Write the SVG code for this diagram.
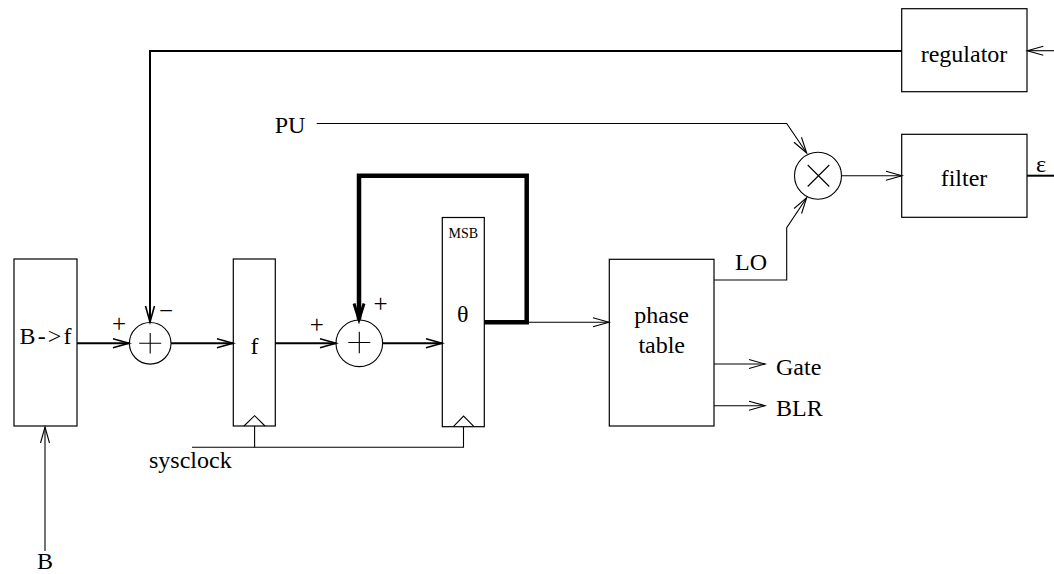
<svg xmlns="http://www.w3.org/2000/svg" width="1054" height="574" viewBox="0 0 1054 574">
<style>
text{font-family:"Liberation Serif","Times New Roman",serif;fill:#000}
.t{font-size:24px}
.s{font-size:14px}
.pm{font-size:25px}
.box{fill:none;stroke:#000;stroke-width:1.2}
.thin{fill:none;stroke:#000;stroke-width:1.1}
.med{fill:none;stroke:#000;stroke-width:2}
.thick{fill:none;stroke:#000;stroke-width:4.5}
.sym{fill:none;stroke:#000;stroke-width:1.1}
</style>
<defs>
<marker id="a1" markerUnits="userSpaceOnUse" markerWidth="20" markerHeight="12" refX="16" refY="5" orient="auto" overflow="visible">
<path d="M0,0.5 L16,5 L0,9.5" fill="none" stroke="#000" stroke-width="1.1"/>
</marker>
<marker id="a2" markerUnits="userSpaceOnUse" markerWidth="20" markerHeight="12" refX="16" refY="5" orient="auto" overflow="visible">
<path d="M0,0.5 L16,5 L0,9.5" fill="none" stroke="#000" stroke-width="1.6"/>
</marker>
<marker id="a3" markerUnits="userSpaceOnUse" markerWidth="20" markerHeight="14" refX="16" refY="5" orient="auto" overflow="visible">
<path d="M0,0 L16,5 L0,10" fill="none" stroke="#000" stroke-width="3"/>
</marker>
</defs>

<g id="connectors">
<path class="thin" d="M45,551 V427" marker-end="url(#a1)"/>
<path class="med" d="M77,343.3 H129" marker-end="url(#a2)"/>
<path class="med" d="M171,343.3 H233" marker-end="url(#a2)"/>
<path class="med" d="M902,51 H150 V322" marker-end="url(#a2)"/>
<path class="med" d="M275.3,343.3 H336" marker-end="url(#a2)"/>
<path class="med" d="M382.6,343.3 H442" marker-end="url(#a2)"/>
<path class="thick" d="M484.3,322.3 H526.7 V175.7 H359 V319.5" stroke-linejoin="miter" marker-end="url(#a3)"/>
<path class="thin" d="M526.7,322.3 H609" marker-end="url(#a1)"/>
<path class="thin" d="M192,447.3 H463.5 V426.7"/>
<path class="thin" d="M254.6,447.3 V426"/>
<path class="thin" d="M714,280 H786.7 V227.7 L806.7,197.7" marker-end="url(#a1)"/>
<path class="thin" d="M316.7,123.5 H786.7 L806.7,153" marker-end="url(#a1)"/>
<path class="thin" d="M841.7,175.8 H902" marker-end="url(#a1)"/>
<path class="med" d="M1027,175.7 H1054"/>
<path class="thin" d="M1054,50.7 H1027.3" marker-end="url(#a1)"/>
<path class="thin" d="M714,364 H765" marker-end="url(#a1)"/>
<path class="thin" d="M714,405.7 H765" marker-end="url(#a1)"/>
</g>

<g id="bf">
<rect class="box" x="14" y="259" width="63" height="167"/>
<text class="t" x="45.5" y="344" text-anchor="middle" textLength="52">B-&gt;f</text>
</g>

<g id="sum1">
<circle class="sym" cx="150.2" cy="343.3" r="20.8"/>
<path class="sym" d="M139.2,343.3 H161.2 M150.2,333 V353.5"/>
<text class="pm" x="119" y="331.5" text-anchor="middle">+</text>
<text class="pm" x="166" y="318.5" text-anchor="middle">−</text>
</g>

<g id="freg">
<rect class="box" x="233.3" y="259" width="42" height="167"/>
<text class="t" x="254.5" y="354" text-anchor="middle">f</text>
<path class="sym" d="M244,426 L254.6,415.7 L265,426"/>
</g>

<g id="sum2">
<circle class="sym" cx="359.3" cy="343.3" r="23.3"/>
<path class="sym" d="M348.3,342.5 H370.3 M359.3,331.7 V353.3"/>
<text class="pm" x="316.7" y="333" text-anchor="middle">+</text>
<text class="pm" x="380.5" y="312" text-anchor="middle">+</text>
</g>

<g id="theta">
<rect class="box" x="442.3" y="217.5" width="42" height="209.2"/>
<text class="s" x="463.3" y="238.3" text-anchor="middle">MSB</text>
<text class="t" x="462.7" y="322" text-anchor="middle">θ</text>
<path class="sym" d="M453.3,426.7 L463.6,416 L474,426.7"/>
</g>

<g id="phasetable">
<rect class="box" x="609.3" y="259.3" width="104.7" height="166.7"/>
<text class="t" x="661.7" y="322.7" text-anchor="middle">phase</text>
<text class="t" x="661.7" y="353.3" text-anchor="middle">table</text>
</g>

<g id="mult">
<circle class="sym" cx="818" cy="175.8" r="23.5"/>
<path class="sym" d="M807.7,165 L829.3,186.5 M829.3,165 L807.7,186.5"/>
</g>

<g id="regulator">
<rect class="box" x="901.7" y="8.7" width="125.3" height="83"/>
<text class="t" x="964" y="61.7" text-anchor="middle">regulator</text>
</g>

<g id="filter">
<rect class="box" x="901.7" y="134.3" width="125.3" height="83"/>
<text class="t" x="964" y="185.7" text-anchor="middle">filter</text>
</g>

<g id="labels">
<text class="t" x="290" y="133" text-anchor="middle">PU</text>
<text class="t" x="751" y="270" text-anchor="middle">LO</text>
<text class="t" x="776" y="375">Gate</text>
<text class="t" x="776" y="416">BLR</text>
<text class="t" x="149" y="468">sysclock</text>
<text class="t" x="45" y="569" text-anchor="middle">B</text>
<text class="t" x="1036" y="172">ε</text>
</g>
</svg>
